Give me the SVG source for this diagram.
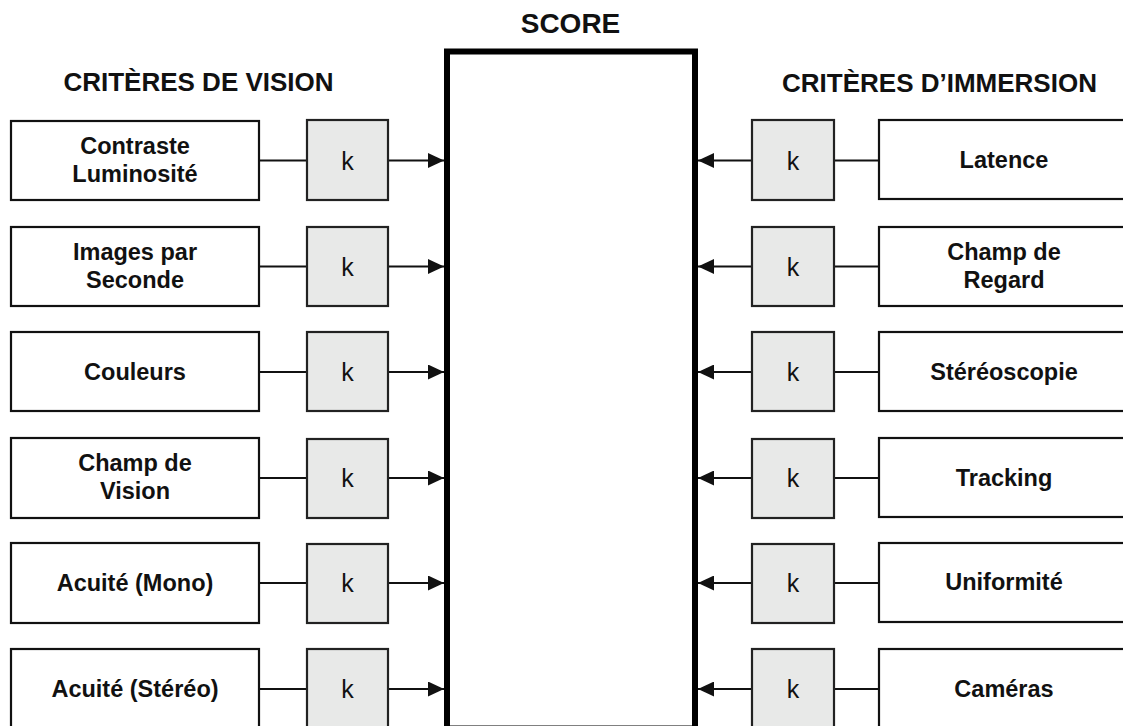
<svg xmlns="http://www.w3.org/2000/svg" width="1123" height="726" viewBox="0 0 1123 726">
<style>
.box{fill:#fff;stroke:#111;stroke-width:2.2}
.kbox{fill:#e8e9e8;stroke:#222;stroke-width:2.2}
.lbl{font-family:"Liberation Sans",Arial,sans-serif;font-weight:bold;font-size:23.5px;fill:#111;text-anchor:middle}
.hdr{font-family:"Liberation Sans",Arial,sans-serif;font-weight:bold;font-size:26px;fill:#111;text-anchor:middle}
.k{font-family:"Liberation Sans",Arial,sans-serif;font-size:25px;fill:#111;text-anchor:middle}
.ln{stroke:#111;stroke-width:2.2;fill:none}
</style>
<defs>
<marker id="ah" viewBox="0 0 16 15" refX="16" refY="7.5" markerWidth="16" markerHeight="15" markerUnits="userSpaceOnUse" orient="auto">
<path d="M0,0 L16,7.5 L0,15 Z" fill="#111"/>
</marker>
</defs>
<rect width="1123" height="726" fill="#fff"/>
<text class="hdr" x="570.5" y="33" style="font-size:28px">SCORE</text>
<text class="hdr" x="198.5" y="91">CRITÈRES DE VISION</text>
<text class="hdr" x="939.5" y="92">CRITÈRES D’IMMERSION</text>
<g id="score"><rect x="447" y="51.5" width="248" height="677" fill="#fff" stroke="#000" stroke-width="6"/></g>
<g id="connectors">
<path class="ln" d="M259,160.5 H307"/><path class="ln" d="M388,160.5 H444" marker-end="url(#ah)"/>
<path class="ln" d="M259,266.5 H307"/><path class="ln" d="M388,266.5 H444" marker-end="url(#ah)"/>
<path class="ln" d="M259,372 H307"/><path class="ln" d="M388,372 H444" marker-end="url(#ah)"/>
<path class="ln" d="M259,478 H307"/><path class="ln" d="M388,478 H444" marker-end="url(#ah)"/>
<path class="ln" d="M259,583 H307"/><path class="ln" d="M388,583 H444" marker-end="url(#ah)"/>
<path class="ln" d="M259,689 H307"/><path class="ln" d="M388,689 H444" marker-end="url(#ah)"/>
<path class="ln" d="M879,160.5 H834"/><path class="ln" d="M752,160.5 H698" marker-end="url(#ah)"/>
<path class="ln" d="M879,266.5 H834"/><path class="ln" d="M752,266.5 H698" marker-end="url(#ah)"/>
<path class="ln" d="M879,372 H834"/><path class="ln" d="M752,372 H698" marker-end="url(#ah)"/>
<path class="ln" d="M879,478 H834"/><path class="ln" d="M752,478 H698" marker-end="url(#ah)"/>
<path class="ln" d="M879,583 H834"/><path class="ln" d="M752,583 H698" marker-end="url(#ah)"/>
<path class="ln" d="M879,689 H834"/><path class="ln" d="M752,689 H698" marker-end="url(#ah)"/>
</g>
<g id="l1"><rect class="box" x="11" y="121" width="248" height="79"/><text class="lbl" x="135" y="153.5">Contraste</text><text class="lbl" x="135" y="181.5">Luminosité</text></g>
<g id="l2"><rect class="box" x="11" y="227" width="248" height="79"/><text class="lbl" x="135" y="260">Images par</text><text class="lbl" x="135" y="288">Seconde</text></g>
<g id="l3"><rect class="box" x="11" y="332" width="248" height="79"/><text class="lbl" x="135" y="380">Couleurs</text></g>
<g id="l4"><rect class="box" x="11" y="438" width="248" height="80"/><text class="lbl" x="135" y="471">Champ de</text><text class="lbl" x="135" y="499">Vision</text></g>
<g id="l5"><rect class="box" x="11" y="543" width="248" height="80"/><text class="lbl" x="135" y="591">Acuité (Mono)</text></g>
<g id="l6"><rect class="box" x="11" y="649" width="248" height="80"/><text class="lbl" x="135" y="697">Acuité (Stéréo)</text></g>
<g id="kl1"><rect class="kbox" x="307" y="120" width="81" height="80"/><text class="k" x="347.5" y="169.5">k</text></g>
<g id="kl2"><rect class="kbox" x="307" y="227" width="81" height="79"/><text class="k" x="347.5" y="275.5">k</text></g>
<g id="kl3"><rect class="kbox" x="307" y="332" width="81" height="79"/><text class="k" x="347.5" y="381">k</text></g>
<g id="kl4"><rect class="kbox" x="307" y="439" width="81" height="79"/><text class="k" x="347.5" y="487">k</text></g>
<g id="kl5"><rect class="kbox" x="307" y="544" width="81" height="79"/><text class="k" x="347.5" y="592">k</text></g>
<g id="kl6"><rect class="kbox" x="307" y="649" width="81" height="80"/><text class="k" x="347.5" y="698">k</text></g>
<g id="r1"><rect class="box" x="879" y="120" width="250" height="79"/><text class="lbl" x="1004" y="168">Latence</text></g>
<g id="r2"><rect class="box" x="879" y="227" width="250" height="79"/><text class="lbl" x="1004" y="260">Champ de</text><text class="lbl" x="1004" y="288">Regard</text></g>
<g id="r3"><rect class="box" x="879" y="332" width="250" height="79"/><text class="lbl" x="1004" y="380">Stéréoscopie</text></g>
<g id="r4"><rect class="box" x="879" y="438" width="250" height="79"/><text class="lbl" x="1004" y="486">Tracking</text></g>
<g id="r5"><rect class="box" x="879" y="543" width="250" height="79"/><text class="lbl" x="1004" y="590">Uniformité</text></g>
<g id="r6"><rect class="box" x="879" y="649" width="250" height="80"/><text class="lbl" x="1004" y="697">Caméras</text></g>
<g id="kr1"><rect class="kbox" x="752" y="120" width="82" height="80"/><text class="k" x="793" y="169.5">k</text></g>
<g id="kr2"><rect class="kbox" x="752" y="227" width="82" height="79"/><text class="k" x="793" y="275.5">k</text></g>
<g id="kr3"><rect class="kbox" x="752" y="332" width="82" height="79"/><text class="k" x="793" y="381">k</text></g>
<g id="kr4"><rect class="kbox" x="752" y="439" width="82" height="79"/><text class="k" x="793" y="487">k</text></g>
<g id="kr5"><rect class="kbox" x="752" y="544" width="82" height="79"/><text class="k" x="793" y="592">k</text></g>
<g id="kr6"><rect class="kbox" x="752" y="649" width="82" height="80"/><text class="k" x="793" y="698">k</text></g>
</svg>
